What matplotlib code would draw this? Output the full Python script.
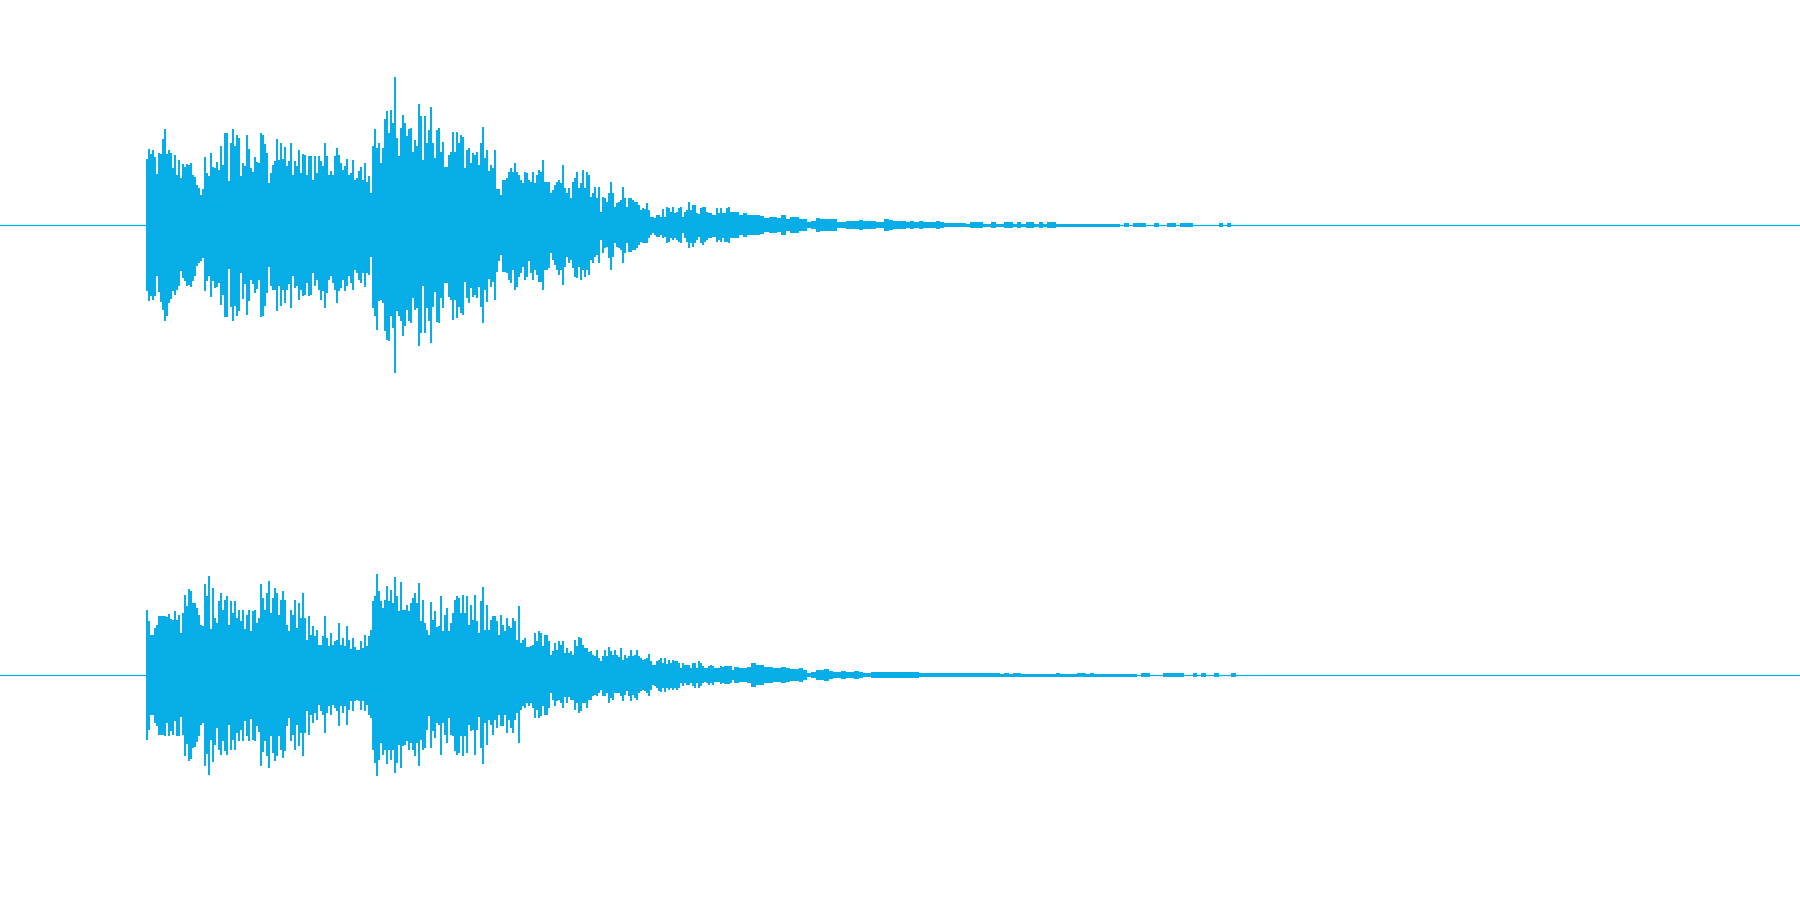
import numpy as np
from matplotlib import pyplot as plt

COLOR = '#06ADE6'

# envelope heights, one value every 2 samples
top_up_a = [66,76,71,75,68,51,72,71,86,96,71,75,72,57,70,50,65,47,61,58,61,60,62,50,48,40,37,29,36,68,52,49,72,58,57,63,55,79,60,92,92,39,82,96,79,90,87,49,62,59,90,76,57,53,68,63,62,92,90,81,72,40,52,60,64,86,65,82,66,78,59,64,82,50,64,59,75,52,71,70,50,69,69,45,69,52,69,64,59,82,69,50,54,50,69,77,70,62,55,59,66,50,52,65,45,47,54,58,45,62,43,49,32,79,96,77,82,62,77,106,114,92,115,102,148,87,69,97,110,102,89,96,97,73,85,79,121,109,65,109,82,95,89]
top_lo_a = [66,76,71,75,71,51,67,77,85,96,91,78,74,66,70,65,61,46,53,56,61,60,62,56,51,41,38,36,33,66,56,51,72,56,63,62,58,80,70,92,92,39,82,96,81,91,86,48,74,59,90,76,55,59,68,64,55,92,91,81,68,41,61,65,65,86,61,81,65,78,65,59,83,51,63,61,75,65,71,70,58,71,70,48,61,55,65,75,66,83,68,55,51,58,65,78,66,63,55,66,61,51,58,65,45,48,55,58,48,62,48,50,31,83,91,105,76,75,78,106,115,116,91,103,148,86,91,96,111,101,85,96,98,73,85,83,121,108,61,108,83,96,88]
top_up_b = [118,82,67,95,97,73,83,58,58,70,73,93,73,93,82,90,88,57,75,77,62,72,70,73,60,82,98,67,75,43,60,57,75,30,28,30,45,45,47,53,57,53,62,53,50,45,42,53,52,45,43,53,42,50,55,53,65,43,43,43,32,35,40,43,45,42,60,37,28,37,27,43,47,53,37,42,55,37,53,50,28,32,38,27,38,13,28,27,23,32,43,32,17,22,23,25,38,27,13,27,27,25,23,23,20,15,17,16,22,15,8,8,5,10,10,8,16,8,18,17,13,18,12,13,17,18,8,13,15,23,15,20,20,12,10,17,18,18,13,12,12,10,10,17,12,17,12,12,17,18,8]
top_lo_b = [118,82,67,97,98,73,83,57,58,72,75,95,75,93,82,88,90,57,73,78,63,72,70,73,62,82,98,65,77,38,62,57,75,47,28,30,47,47,48,55,58,45,65,62,52,48,42,55,52,35,48,55,45,50,57,57,65,45,45,43,23,35,40,45,50,45,60,42,28,38,35,43,52,53,42,55,45,52,45,50,35,38,32,30,38,15,28,23,22,33,45,32,18,22,23,25,38,28,17,27,27,25,25,23,17,17,18,18,18,13,10,8,10,12,12,10,13,12,18,17,13,15,13,15,17,18,8,13,17,23,18,22,18,15,12,18,20,17,15,13,13,12,12,17,15,17,13,17,17,18,8]
top_tail = [13,13,10,12,10,10,10,9,7,8,8,7,10,6,8,8,6,6,3,4,7,6,6,6,6,3,3,4,4,4,5,4,4,4,3,3,6,5,4,4,4,3,4,3,4,3,3,3,4,3,2,2,2,2,2,1.5,3,3,3,1.5,1.5,3,1.5,1.5,3,3,1.5,3,1.5,3,3,1.5,3,1.5,3,3,1.5,1.5,1.5,1.5,1.5,1.5,1.5,1.5,1.5,1.5,1.5,1.5,1.5,1.5,1.5,0.5,2,0.5,2,2,2,0.5,0.5,2,0.5,0.5,2,2,0.5,2,2,2,0.5,0.5,0.5,0.5,0.5,0.5,2,0.5,2,0.5]

bot_up_a = [65,54,23,32,47,50,59,59,59,59,58,61,56,55,64,55,60,37,62,80,69,86,84,72,72,67,60,50,49,91,79,99,45,87,57,52,74,82,65,75,79,35,74,62,74,57,65,54,65,45,60,65,44,64,65,52,57,91,77,65,82,94,62,77,87,82,60,75,84,75,50,44,65,60,75,47,72,57,82,57,35,59,40,49,39,45,30,29,39,59,37,29,42,30,34,35,52,30,37,29,49,35,25,37,28,25,25,34,27,40,29,39,45,74,79,101,84,74,67,75,89,74,85,72,98,79,64,93,65,65,70,64,72,77,82,72,92,54,75,52,45,40,57]
bot_lo_a = [65,55,23,31,48,51,60,60,60,61,48,61,56,60,43,61,61,36,60,81,69,86,84,73,72,67,61,50,48,91,79,100,65,87,70,53,75,80,66,76,80,35,75,65,75,58,66,55,66,45,61,66,43,65,66,51,57,91,77,66,81,93,61,78,86,81,61,75,83,76,51,43,66,60,75,50,71,58,81,58,36,60,40,48,38,45,30,36,40,58,38,31,40,30,33,36,51,31,38,31,50,35,26,36,25,25,26,35,26,36,30,40,43,75,88,101,85,68,80,75,89,75,85,75,98,88,70,93,71,70,66,75,68,75,81,68,91,65,75,73,55,41,58]
bot_up_b = [73,55,64,39,49,79,44,60,67,44,52,62,75,79,77,62,80,62,79,49,70,55,80,54,35,74,88,45,70,45,55,59,59,54,39,60,50,44,57,49,47,57,54,35,69,32,35,37,27,27,29,30,42,34,44,42,29,40,40,34,20,24,32,25,34,30,34,20,27,19,24,20,35,29,38,37,30,27,27,20,24,20,19,25,14,14,19,25,19,28,24,20,25,20,14,27,15,20,17,19,25,19,20,25,19,17,15,16,17,21,14,10,9,14,15,17,12,17,10,15,12,15,14,14,12,7,12,10,10,10,7,12,12,7,14,12,9,5,7,9,10,9,5,5,6,9,8,9,9,9,9]
bot_lo_b = [73,56,63,40,50,80,48,60,68,43,60,61,76,80,78,61,81,61,78,50,56,55,80,55,35,73,89,48,70,45,50,60,45,53,38,51,51,40,58,45,53,58,45,38,68,35,31,33,28,31,28,33,43,35,43,41,31,40,40,33,18,25,31,26,25,28,33,20,28,20,25,25,35,28,38,36,28,28,33,25,25,21,20,21,18,15,21,21,18,28,23,25,16,18,16,21,26,20,16,21,26,20,23,25,18,16,15,16,18,21,15,10,11,13,16,17,13,17,13,15,13,15,13,15,13,8,11,8,10,10,8,11,13,8,13,11,8,6,8,10,8,10,6,6,6,9,8,9,9,9,8]
bot_tail = [5,8,7,7,8,12,10,10,8,8,7,7,8,7,6,6,7,5,2,3,5,5,6,4,3,3,4,3,3,4,3,2,2,3,3,3,3,3,3,3,3,3,3,3,2,2,2,2,2,2,2,2,2,2,2,2,2,2,2,2,2,2,2,1.5,2,1.5,2,2,1.5,1.5,1.5,1.5,1.5,1.5,1.5,1.5,2,1.5,1.5,1.5,1.5,2,2,1.5,2,1.5,1.5,1.5,1.5,1.5,1.5,1.5,1.5,1.5,1.5,0.5,2,2,0.5,0.5,0.5,2,2,2,2,2,0.5,0.5,2,0.5,2,0.5,0.5,2,0.5,0.5,0.5,2,0.5,0.5]

# solid part under the spikes, one value every 10 samples
top_body_a = [50,46,52,42,46,30,42,44,44,45,44,46,42,44,46,44,42,44,44,45,42,38,32,58,64,66,66,60,60]
top_body_b = [66,58,58,56,50,54,36,26,34,36,34,38,28,32,24,30,24,13,18,18,20,13,7,7,10,7,11,10,9,10]
bot_body_a = [40,40,46,42,54,44,46,46,50,46,44,40,50,50,40,40,30,30,26,26,26,20,22,56,54,54,50,50,38]
bot_body_b = [48,40,46,50,42,40,40,40,34,28,24,28,18,22,17,23,17,13,18,14,15,13,10,11,10,7,7,7,7,7]


def draw_spikes(ax, up, lo, start):
    n = min(len(up), len(lo))
    x = start + 2 * np.arange(n)
    up = np.array(up[:n])
    lo = np.array(lo[:n])
    ax.bar(x, up + lo, bottom=-lo, width=1.6, align='edge', color=COLOR, lw=0)


def draw_solid(ax, up, lo, start, step):
    n = min(len(up), len(lo))
    x = start + step * np.arange(n + 1)
    up = np.append(up[:n], up[n - 1])
    lo = np.append(lo[:n], lo[n - 1])
    ax.fill_between(x, -np.array(lo), up, step='post', color=COLOR, lw=0)


fig = plt.figure(figsize=(18, 9), dpi=100)
ax_top = fig.add_axes([0, 0.5, 1, 0.5])
ax_bot = fig.add_axes([0, 0, 1, 0.5])

draw_spikes(ax_top, top_up_a, top_lo_a, 146)
draw_spikes(ax_top, top_up_b, top_lo_b, 430)
draw_solid(ax_top, top_body_a, top_body_a, 146, 10)
draw_solid(ax_top, top_body_b, top_body_b, 430, 10)
draw_solid(ax_top, top_tail, top_tail, 730, 30 / 7)
draw_spikes(ax_bot, bot_up_a, bot_lo_a, 146)
draw_spikes(ax_bot, bot_up_b, bot_lo_b, 430)
draw_solid(ax_bot, bot_body_a, bot_body_a, 146, 10)
draw_solid(ax_bot, bot_body_b, bot_body_b, 430, 10)
draw_solid(ax_bot, bot_tail, bot_tail, 730, 30 / 7)

for ax in (ax_top, ax_bot):
    ax.axhline(0, color=COLOR, lw=0.9)
    ax.set_xlim(0, 1800)
    ax.set_ylim(-225, 225)
    ax.axis('off')

fig.savefig('out.png', dpi=100, facecolor='white')
